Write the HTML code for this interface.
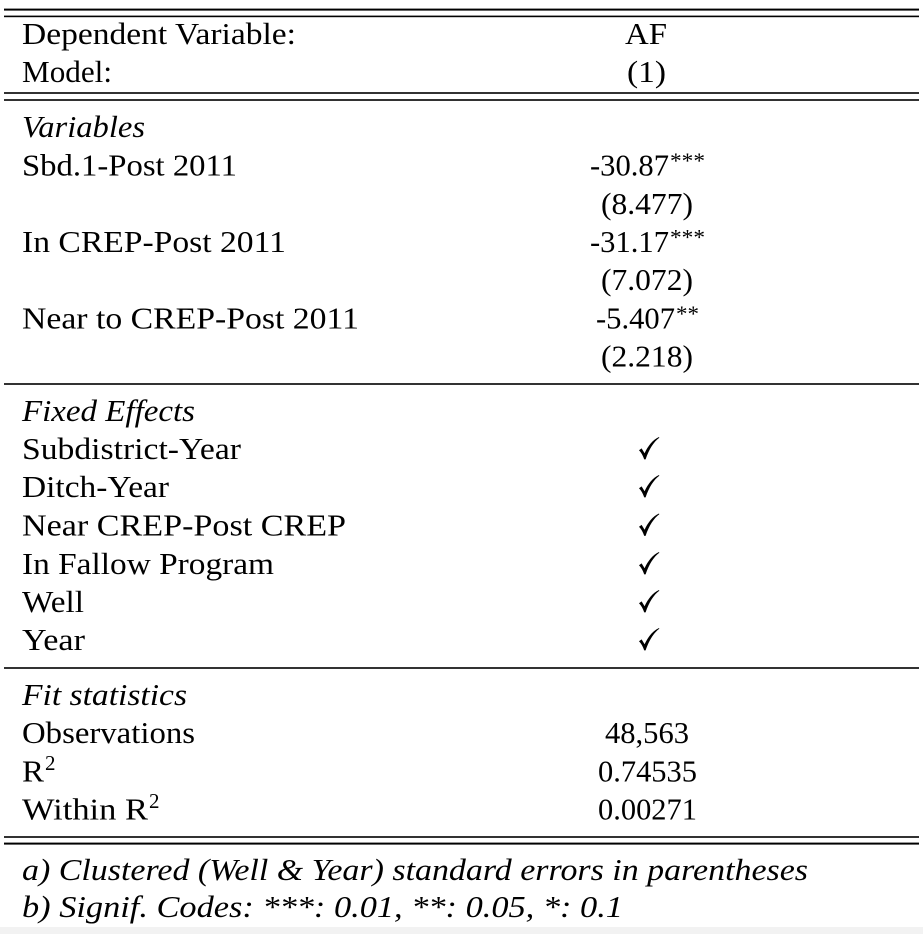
<!DOCTYPE html>
<html>
<head>
<meta charset="utf-8">
<style>
  html, body { margin: 0; padding: 0; background: #ffffff; }
  body { width: 923px; height: 934px; overflow: hidden; }
  svg { display: block; }
  text { font-family: "Liberation Serif", "DejaVu Serif", serif; fill: #000; }
  .t { font-size: 30.5px; }
  .i { font-size: 30.5px; font-style: italic; }
  .s { font-size: 22px; }
  .sup { font-size: 21px; }
</style>
</head>
<body>
<svg width="923" height="934" viewBox="0 0 923 934" xmlns="http://www.w3.org/2000/svg">
  <rect x="0" y="0" width="923" height="934" fill="#ffffff"/>
  <rect x="0" y="927" width="923" height="7" fill="#f2f2f2"/>

  <!-- rules -->
  <rect x="4" y="8.6" width="915" height="2" fill="#000"/>
  <rect x="4" y="15.6" width="915" height="1.6" fill="#000"/>
  <rect x="4" y="92.2" width="915" height="1.6" fill="#000"/>
  <rect x="4" y="99.2" width="915" height="1.6" fill="#000"/>
  <rect x="4" y="383.2" width="915" height="1.6" fill="#000"/>
  <rect x="4" y="667.2" width="915" height="1.6" fill="#000"/>
  <rect x="4" y="836.2" width="915" height="1.6" fill="#000"/>
  <rect x="4" y="842.6" width="915" height="2" fill="#000"/>

  <!-- header -->
  <text class="t" x="22" y="44" textLength="274" lengthAdjust="spacingAndGlyphs">Dependent Variable:</text>
  <text class="t" x="22" y="82" textLength="90" lengthAdjust="spacingAndGlyphs">Model:</text>
  <text class="t" x="625" y="44" textLength="42" lengthAdjust="spacingAndGlyphs">AF</text>
  <text class="t" x="627" y="82" textLength="39" lengthAdjust="spacingAndGlyphs">(1)</text>

  <!-- Variables -->
  <text class="i" x="22" y="137" textLength="123" lengthAdjust="spacingAndGlyphs">Variables</text>
  <text class="t" x="22" y="175.5" textLength="215" lengthAdjust="spacingAndGlyphs">Sbd.1-Post 2011</text>
  <text class="t" x="22" y="252" textLength="264" lengthAdjust="spacingAndGlyphs">In CREP-Post 2011</text>
  <text class="t" x="22" y="328.5" textLength="337" lengthAdjust="spacingAndGlyphs">Near to CREP-Post 2011</text>

  <text class="t" x="590" y="175.5" textLength="79" lengthAdjust="spacingAndGlyphs">-30.87</text>
  <text class="s" x="670" y="168" textLength="35" lengthAdjust="spacingAndGlyphs">***</text>
  <text class="t" x="601" y="214" textLength="92" lengthAdjust="spacingAndGlyphs">(8.477)</text>
  <text class="t" x="590" y="252" textLength="79" lengthAdjust="spacingAndGlyphs">-31.17</text>
  <text class="s" x="670" y="244.5" textLength="35" lengthAdjust="spacingAndGlyphs">***</text>
  <text class="t" x="601" y="290" textLength="92" lengthAdjust="spacingAndGlyphs">(7.072)</text>
  <text class="t" x="596" y="328.5" textLength="79" lengthAdjust="spacingAndGlyphs">-5.407</text>
  <text class="s" x="676" y="321" textLength="23" lengthAdjust="spacingAndGlyphs">**</text>
  <text class="t" x="601" y="366.5" textLength="92" lengthAdjust="spacingAndGlyphs">(2.218)</text>

  <!-- Fixed Effects -->
  <text class="i" x="22" y="421" textLength="173" lengthAdjust="spacingAndGlyphs">Fixed Effects</text>
  <text class="t" x="22" y="459" textLength="219" lengthAdjust="spacingAndGlyphs">Subdistrict-Year</text>
  <text class="t" x="22" y="497" textLength="147" lengthAdjust="spacingAndGlyphs">Ditch-Year</text>
  <text class="t" x="22" y="535.5" textLength="324" lengthAdjust="spacingAndGlyphs">Near CREP-Post CREP</text>
  <text class="t" x="22" y="574" textLength="252" lengthAdjust="spacingAndGlyphs">In Fallow Program</text>
  <text class="t" x="22" y="612" textLength="62" lengthAdjust="spacingAndGlyphs">Well</text>
  <text class="t" x="22" y="650" textLength="63" lengthAdjust="spacingAndGlyphs">Year</text>

  <!-- checkmarks -->
  <defs>
    <path id="chk" d="M0,13.2 L2.6,11.4 L5.6,16.2 C9,9 13.5,3 20,0 L20.3,0.8 C15,4.6 10,12.2 6.6,22.4 L5.2,22.4 C4,18.6 2.2,15.4 0,13.2 Z" fill="#000"/>
  </defs>
  <use href="#chk" x="639" y="437"/>
  <use href="#chk" x="639" y="475"/>
  <use href="#chk" x="639" y="513.5"/>
  <use href="#chk" x="639" y="552"/>
  <use href="#chk" x="639" y="590"/>
  <use href="#chk" x="639" y="628"/>

  <!-- Fit statistics -->
  <text class="i" x="22" y="705" textLength="165" lengthAdjust="spacingAndGlyphs">Fit statistics</text>
  <text class="t" x="22" y="743" textLength="173" lengthAdjust="spacingAndGlyphs">Observations</text>
  <text class="t" x="22" y="781.5" textLength="22" lengthAdjust="spacingAndGlyphs">R</text>
  <text class="sup" x="45" y="770">2</text>
  <text class="t" x="22" y="819.5" textLength="126" lengthAdjust="spacingAndGlyphs">Within R</text>
  <text class="sup" x="149" y="808">2</text>

  <text class="t" x="605" y="743" textLength="84" lengthAdjust="spacingAndGlyphs">48,563</text>
  <text class="t" x="598" y="781.5" textLength="99" lengthAdjust="spacingAndGlyphs">0.74535</text>
  <text class="t" x="598" y="819.5" textLength="99" lengthAdjust="spacingAndGlyphs">0.00271</text>

  <!-- notes -->
  <text class="i" x="22" y="880" textLength="786" lengthAdjust="spacingAndGlyphs">a) Clustered (Well &amp; Year) standard errors in parentheses</text>
  <text class="i" x="22" y="917" textLength="601" lengthAdjust="spacingAndGlyphs">b) Signif. Codes: ***: 0.01, **: 0.05, *: 0.1</text>
</svg>
</body>
</html>
